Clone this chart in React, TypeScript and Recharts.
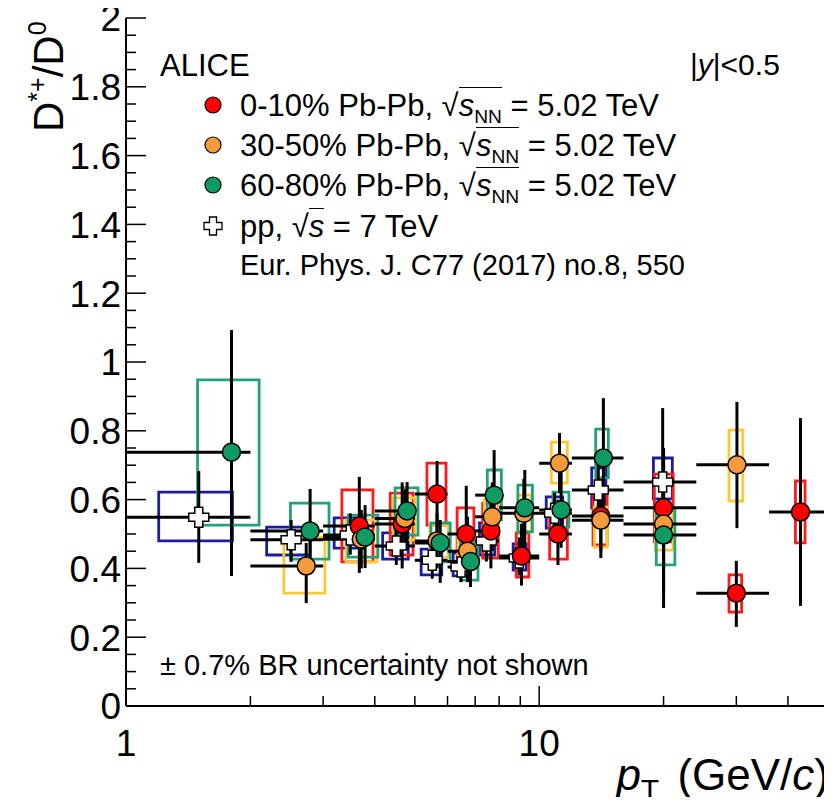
import React from 'react';
import { ScatterChart, Scatter, XAxis, YAxis, ErrorBar, ReferenceArea } from 'recharts';

// each point: pT, ratio, pT bin, stat. range, syst. range, syst. box pT extent
type Pt = {
  pt: number;
  r: number;
  bin: [number, number];
  stat: [number, number];
  sys: [number, number];
  box: [number, number];
};

const central010: Pt[] = [
  { pt: 3.67, r: 0.523, bin: [3, 4], stat: [0.387, 0.666], sys: [0.419, 0.628], box: [3.33, 3.96] },
  { pt: 4.66, r: 0.529, bin: [4, 5], stat: [0.4, 0.65], sys: [0.439, 0.619], box: [4.36, 4.95] },
  { pt: 5.66, r: 0.616, bin: [5, 6], stat: [0.49, 0.712], sys: [0.526, 0.706], box: [5.35, 5.95] },
  { pt: 6.66, r: 0.5, bin: [6, 7], stat: [0.4, 0.64], sys: [0.427, 0.576], box: [6.33, 6.95] },
  { pt: 7.64, r: 0.509, bin: [7, 8], stat: [0.4, 0.62], sys: [0.43, 0.59], box: [7.3, 7.96] },
  { pt: 9.06, r: 0.436, bin: [8, 10], stat: [0.35, 0.53], sys: [0.375, 0.503], box: [8.8, 9.44] },
  { pt: 11.1, r: 0.5, bin: [10, 12], stat: [0.41, 0.6], sys: [0.427, 0.573], box: [10.6, 11.7] },
  { pt: 14.1, r: 0.552, bin: [12, 16], stat: [0.45, 0.66], sys: [0.468, 0.637], box: [13.5, 14.6] },
  { pt: 20.0, r: 0.576, bin: [16, 24], stat: [0.4, 0.75], sys: [0.477, 0.674], box: [19.0, 21.1] },
  { pt: 30.0, r: 0.328, bin: [24, 36], stat: [0.23, 0.422], sys: [0.273, 0.381], box: [28.8, 30.9] },
  { pt: 42.9, r: 0.564, bin: [36, 50], stat: [0.291, 0.837], sys: [0.474, 0.654], box: [41.7, 44.0] },
];

const semi3050: Pt[] = [
  { pt: 2.73, r: 0.407, bin: [2, 3], stat: [0.299, 0.474], sys: [0.328, 0.491], box: [2.41, 3.03] },
  { pt: 3.71, r: 0.485, bin: [3, 4], stat: [0.4, 0.57], sys: [0.419, 0.541], box: [3.41, 4.05] },
  { pt: 4.73, r: 0.545, bin: [4, 5], stat: [0.46, 0.63], sys: [0.483, 0.605], box: [4.43, 5.0] },
  { pt: 5.66, r: 0.48, bin: [5, 6], stat: [0.4, 0.56], sys: [0.433, 0.526], box: [5.44, 6.03] },
  { pt: 6.71, r: 0.45, bin: [6, 7], stat: [0.36, 0.55], sys: [0.4, 0.5], box: [6.36, 7.03] },
  { pt: 7.7, r: 0.55, bin: [7, 8], stat: [0.45, 0.65], sys: [0.5, 0.6], box: [7.37, 7.98] },
  { pt: 9.18, r: 0.56, bin: [8, 10], stat: [0.46, 0.66], sys: [0.506, 0.613], box: [8.88, 9.57] },
  { pt: 11.2, r: 0.706, bin: [10, 12], stat: [0.62, 0.794], sys: [0.648, 0.767], box: [10.7, 11.7] },
  { pt: 14.1, r: 0.54, bin: [12, 16], stat: [0.43, 0.65], sys: [0.462, 0.578], box: [13.6, 14.6] },
  { pt: 20.0, r: 0.529, bin: [16, 24], stat: [0.33, 0.73], sys: [0.453, 0.57], box: [19.1, 21.1] },
  { pt: 30.1, r: 0.701, bin: [24, 36], stat: [0.517, 0.884], sys: [0.596, 0.802], box: [28.8, 31.1] },
];

const periph6080: Pt[] = [
  { pt: 1.8, r: 0.738, bin: [1, 2], stat: [0.378, 1.093], sys: [0.526, 0.948], box: [1.49, 2.1] },
  { pt: 2.79, r: 0.509, bin: [2, 3], stat: [0.404, 0.631], sys: [0.427, 0.59], box: [2.5, 3.1] },
  { pt: 3.79, r: 0.491, bin: [3, 4], stat: [0.401, 0.584], sys: [0.433, 0.555], box: [3.45, 4.07] },
  { pt: 4.79, r: 0.567, bin: [4, 5], stat: [0.453, 0.651], sys: [0.497, 0.634], box: [4.48, 5.09] },
  { pt: 5.76, r: 0.474, bin: [5, 6], stat: [0.358, 0.541], sys: [0.419, 0.532], box: [5.47, 6.09] },
  { pt: 6.82, r: 0.42, bin: [6, 7], stat: [0.346, 0.5], sys: [0.366, 0.474], box: [6.45, 7.11] },
  { pt: 7.78, r: 0.613, bin: [7, 8], stat: [0.48, 0.744], sys: [0.541, 0.686], box: [7.49, 8.1] },
  { pt: 9.23, r: 0.576, bin: [8, 10], stat: [0.47, 0.686], sys: [0.506, 0.642], box: [8.88, 9.63] },
  { pt: 11.3, r: 0.57, bin: [10, 12], stat: [0.46, 0.68], sys: [0.52, 0.622], box: [10.8, 11.8] },
  { pt: 14.3, r: 0.721, bin: [12, 16], stat: [0.54, 0.895], sys: [0.663, 0.805], box: [13.7, 14.7] },
  { pt: 20.0, r: 0.497, bin: [16, 24], stat: [0.285, 0.7], sys: [0.41, 0.57], box: [19.2, 21.3] },
];

const pp7: Pt[] = [
  { pt: 1.5, r: 0.549, bin: [1, 2], stat: [0.416, 0.683], sys: [0.48, 0.622], box: [1.2, 1.81] },
  { pt: 2.51, r: 0.483, bin: [2, 3], stat: [0.419, 0.541], sys: [0.439, 0.52], box: [2.19, 2.79] },
  { pt: 3.49, r: 0.497, bin: [3, 4], stat: [0.44, 0.56], sys: [0.459, 0.547], box: [3.19, 3.77] },
  { pt: 4.51, r: 0.465, bin: [4, 5], stat: [0.41, 0.52], sys: [0.427, 0.503], box: [4.18, 4.82] },
  { pt: 5.51, r: 0.424, bin: [5, 6], stat: [0.37, 0.48], sys: [0.381, 0.456], box: [5.18, 5.81] },
  { pt: 6.47, r: 0.404, bin: [6, 7], stat: [0.36, 0.45], sys: [0.378, 0.445], box: [6.19, 6.81] },
  { pt: 7.45, r: 0.48, bin: [7, 8], stat: [0.42, 0.55], sys: [0.439, 0.532], box: [7.17, 7.81] },
  { pt: 8.95, r: 0.43, bin: [8, 10], stat: [0.38, 0.49], sys: [0.395, 0.471], box: [8.65, 9.3] },
  { pt: 10.9, r: 0.56, bin: [10, 12], stat: [0.5, 0.62], sys: [0.517, 0.608], box: [10.4, 11.4] },
  { pt: 13.9, r: 0.628, bin: [12, 16], stat: [0.55, 0.71], sys: [0.576, 0.692], box: [13.4, 14.5] },
  { pt: 19.9, r: 0.651, bin: [16, 24], stat: [0.55, 0.866], sys: [0.602, 0.721], box: [18.9, 21.0] },
];

const xTicks = [1, 2, 3, 4, 5, 6, 7, 8, 9, 10, 20, 30, 40];
const xMajor = [1, 10];
const yMajor = [0, 0.2, 0.4, 0.6, 0.8, 1, 1.2, 1.4, 1.6, 1.8, 2];
const yTicks = Array.from({ length: 41 }, (_, i) => i * 0.05);

const FONT = '"Liberation Sans", Arial, Helvetica, sans-serif';

const rows = (pts: Pt[]) =>
  pts.map((p) => ({
    x: p.pt,
    y: p.r,
    ex: [p.pt - p.bin[0], p.bin[1] - p.pt],
    ey: [p.r - p.stat[0], p.stat[1] - p.r],
  }));

const dot = (fill: string) => (p: any) =>
  <circle cx={p.cx} cy={p.cy} r={9} fill={fill} stroke="#000" strokeWidth={1.5} />;

const crossPath = (cx: number, cy: number, a: number, b: number) =>
  `M${cx - a},${cy - b}H${cx + a}V${cy - a}H${cx + b}V${cy + a}H${cx + a}V${cy + b}H${cx - a}V${cy + a}H${cx - b}V${cy - a}H${cx - a}Z`;

const cross = (p: any) =>
  <path d={crossPath(p.cx, p.cy, 4, 10)} fill="#fff" stroke="#000" strokeWidth={1.5} />;

const series = [
  { name: 'pp', pts: pp7, box: '#1c1ca0', shape: cross },
  { name: '0-10', pts: central010, box: '#ff1a1a', shape: dot('#ff0000') },
  { name: '30-50', pts: semi3050, box: '#fcc934', shape: dot('#f59b3c') },
  { name: '60-80', pts: periph6080, box: '#22a27a', shape: dot('#0e9a62') },
];

const isMajorY = (v: number) => yMajor.some((m) => Math.abs(m - v) < 1e-6);

const YTick = (props: any) => {
  const { x, y, payload, side } = props;
  const major = isMajorY(payload.value);
  const len = major ? 20 : 10;
  const dir = side === 'l' ? 1 : -1;
  return (
    <g>
      <line x1={x} x2={x + dir * len} y1={y} y2={y} stroke="#000" strokeWidth={1.5} />
      {side === 'l' && major && (
        <text x={x - 5} y={y} dy="0.36em" textAnchor="end" fontSize={37} fontFamily={FONT} fill="#000">
          {String(Number(payload.value.toFixed(1)))}
        </text>
      )}
    </g>
  );
};

const XTick = (props: any) => {
  const { x, y, payload, side } = props;
  const major = xMajor.includes(payload.value);
  const len = major ? 20 : 10;
  const dir = side === 'b' ? -1 : 1;
  return (
    <g>
      <line x1={x} x2={x} y1={y} y2={y + dir * len} stroke="#000" strokeWidth={1.5} />
      {side === 'b' && major && (
        <text x={x} y={y + 37} dy="0.36em" textAnchor="middle" fontSize={37} fontFamily={FONT} fill="#000">
          {payload.value}
        </text>
      )}
    </g>
  );
};

const Sqrt = ({ sub }: { sub?: string }) => (
  <span>
    √
    <span style={{ borderTop: '1.5px solid #000' }}>
      <i>s</i>
      {sub && <span style={{ fontSize: '0.62em', position: 'relative', top: '0.35em' }}>{sub}</span>}
    </span>
  </span>
);

const legendRows = [
  { center: 105, label: '0-10% Pb-Pb, ', fill: '#ff0000' },
  { center: 145, label: '30-50% Pb-Pb, ', fill: '#f59b3c' },
  { center: 185, label: '60-80% Pb-Pb, ', fill: '#0e9a62' },
];

const textStyle = (left: number, center: number, size: number): React.CSSProperties => ({
  position: 'absolute',
  left,
  top: Math.round(center - 0.49 * size),
  fontSize: size,
  lineHeight: 1,
  whiteSpace: 'nowrap',
  fontFamily: FONT,
  color: '#000',
});

export default function App() {
  return (
    <div style={{ position: 'relative', width: 832, height: 805, margin: -8, background: '#fff' }}>
      <ScatterChart width={832} height={805} margin={{ top: 18, right: 4, bottom: 0, left: 0 }}>
        <XAxis
          xAxisId="b"
          type="number"
          dataKey="x"
          scale="log"
          domain={[1, 50]}
          allowDataOverflow
          ticks={xTicks}
          interval={0}
          tickSize={0}
          tickMargin={0}
          tickLine={false}
          height={99}
          axisLine={{ stroke: '#000', strokeWidth: 2 }}
          tick={(p: any) => <XTick {...p} side="b" />}
        />
        <XAxis
          xAxisId="t"
          orientation="top"
          type="number"
          scale="log"
          domain={[1, 50]}
          allowDataOverflow
          ticks={xTicks}
          interval={0}
          tickSize={0}
          tickMargin={0}
          tickLine={false}
          height={0}
          axisLine={{ stroke: '#000', strokeWidth: 2 }}
          tick={(p: any) => <XTick {...p} side="t" />}
        />
        <YAxis
          yAxisId="l"
          type="number"
          dataKey="y"
          domain={[0, 2]}
          allowDataOverflow
          ticks={yTicks}
          interval={0}
          tickSize={0}
          tickMargin={0}
          tickLine={false}
          width={126}
          axisLine={{ stroke: '#000', strokeWidth: 2 }}
          tick={(p: any) => <YTick {...p} side="l" />}
        />
        <YAxis
          yAxisId="r"
          orientation="right"
          type="number"
          domain={[0, 2]}
          allowDataOverflow
          ticks={yTicks}
          interval={0}
          tickSize={0}
          tickMargin={0}
          tickLine={false}
          width={0}
          axisLine={{ stroke: '#000', strokeWidth: 2 }}
          tick={(p: any) => <YTick {...p} side="r" />}
        />
        {series.map((s) =>
          s.pts.map((p, i) => (
            <ReferenceArea
              key={`${s.name}-box-${i}`}
              xAxisId="b"
              yAxisId="l"
              x1={p.box[0]}
              x2={p.box[1]}
              y1={p.sys[0]}
              y2={p.sys[1]}
              fill="none"
              fillOpacity={0}
              stroke={s.box}
              strokeWidth={2.8}
            />
          ))
        )}
        {series.map((s) => (
          <Scatter
            key={s.name}
            name={s.name}
            xAxisId="b"
            yAxisId="l"
            data={rows(s.pts)}
            shape={s.shape}
            isAnimationActive={false}
          >
            <ErrorBar dataKey="ex" direction="x" width={0} stroke="#000" strokeWidth={3} isAnimationActive={false} />
            <ErrorBar dataKey="ey" direction="y" width={0} stroke="#000" strokeWidth={3} isAnimationActive={false} />
          </Scatter>
        ))}
      </ScatterChart>

      <svg width={832} height={805} style={{ position: 'absolute', left: 0, top: 0, pointerEvents: 'none' }}>
        <text transform="translate(63,132) rotate(-90)" fontSize={42} fontFamily={FONT} fill="#000">
          D<tspan dy={-17} fontSize={25}>*+</tspan>
          <tspan dy={17}>/D</tspan>
          <tspan dy={-17} fontSize={25}>0</tspan>
        </text>
        <text x={829} y={790} textAnchor="end" fontSize={44} fontFamily={FONT} fill="#000">
          <tspan fontStyle="italic">p</tspan>
          <tspan dy={10} fontSize={30}>T</tspan>
          <tspan dy={-10} dx={6}> (GeV/</tspan>
          <tspan fontStyle="italic">c</tspan>
          <tspan>)</tspan>
        </text>
        {legendRows.map((l) => (
          <circle key={l.center} cx={213} cy={l.center} r={8} fill={l.fill} stroke="#000" strokeWidth={1.2} />
        ))}
        <path d={crossPath(213, 226, 3.5, 9)} fill="#fff" stroke="#000" strokeWidth={1.3} />
      </svg>

      <div style={textStyle(160, 65, 31)}>ALICE</div>
      <div style={textStyle(690, 65, 30)}>
        |<i>y</i>|&lt;0.5
      </div>
      {legendRows.map((l) => (
        <div key={l.center} style={textStyle(240, l.center, 31)}>
          {l.label}
          <Sqrt sub="NN" /> = 5.02 TeV
        </div>
      ))}
      <div style={textStyle(240, 226, 31)}>
        pp, <Sqrt /> = 7 TeV
      </div>
      <div style={textStyle(240, 265, 29)}>Eur. Phys. J. C77 (2017) no.8, 550</div>
      <div style={textStyle(160, 665, 29)}>± 0.7% BR uncertainty not shown</div>
    </div>
  );
}
